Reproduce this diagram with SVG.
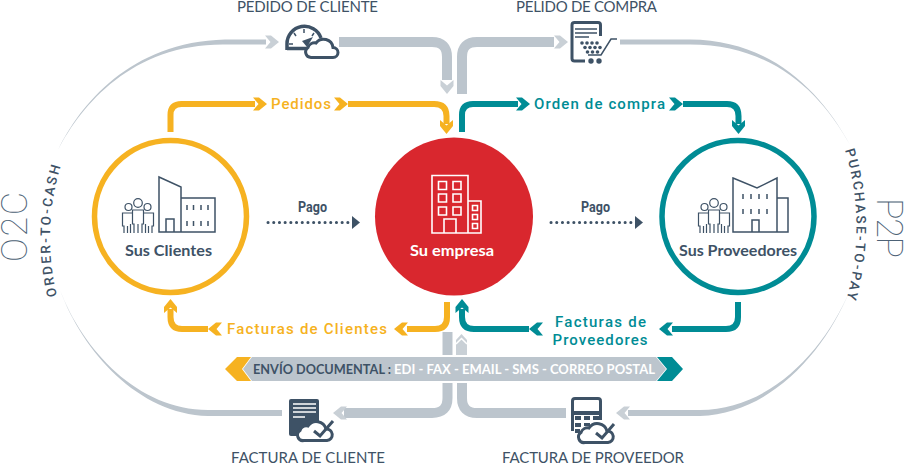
<svg xmlns="http://www.w3.org/2000/svg" width="904" height="464" viewBox="0 0 904 464">
<style>
.y{fill:none;stroke:#f6b221;stroke-width:6}
.t{fill:none;stroke:#008c95;stroke-width:6}
.g{fill:none;stroke:#bcc5cd;stroke-width:10}
.fy{fill:#f6b221}.ft{fill:#008c95}.fg{fill:#bcc5cd}.fp{fill:#c9d0d6}.fd{fill:#3e5266}
.lab{font-family:"Roboto","Liberation Sans",sans-serif;font-weight:500;font-size:15px;letter-spacing:2px}
.top{font-family:"Lato","Liberation Sans",sans-serif;font-size:15px;fill:#3e5266}
.nm{font-family:"Lato","Liberation Sans",sans-serif;font-weight:700;font-size:16px}
.ban{font-family:"Lato","Liberation Sans",sans-serif;font-weight:700;font-size:13.500px}
.pago{font-family:"Roboto","Liberation Sans",sans-serif;font-weight:700;font-size:14.500px;fill:#3e5266}
.side{font-family:"Roboto","Liberation Sans",sans-serif;font-weight:500;font-size:13.500px;letter-spacing:2.200px;fill:#3e5266}
.big{font-family:"Roboto","Liberation Sans",sans-serif;font-weight:100;font-size:36px;fill:#4d6276}
.ln{fill:none;stroke:#3e5266;stroke-width:1.500}
.pl{fill:none;stroke:#3e5266;stroke-width:1.200}
.dot{fill:none;stroke:#3e5266;stroke-width:3;stroke-linecap:round;stroke-dasharray:.1 5.600}
.ic{fill:none;stroke:#3e5266;stroke-width:3}
.wl{fill:none;stroke:#fff;stroke-width:1.600}
</style>
<defs>
<path id="ch" d="M-14-6.500H-8L0 0-8 6.500H-14L-8.500 0Z"/>
<g id="people" class="pl">
<circle cx="-9.500" cy="4" r="3.500"/><circle cx="0" cy="0" r="4.300"/><circle cx="9.500" cy="4" r="3.500"/>
<path d="M-4 30V21H-5.500V7H5.500V21H4V30M0 21V30"/>
<path d="M-5.500 10H-15.500V23H-14V30M-10.500 23V30M-7.500 21V30M5.500 10H15.500V23H14V30M10.500 23V30M7.500 21V30"/>
</g>
<path id="p2pa" d="M845 150Q868 226 845 304"/>
<path id="o2ca" d="M57 296Q40 226 64 156"/>
</defs>
<g id="connectors">
<path class="fg" d="M58 150C80 105 130 42 225 39.500H266V44.500H225C133 43.500 82 104 58 150Z"/>
<use href="#ch" class="fp" transform="translate(279 42)"/>
<path class="fg" d="M620 39.500H690C770 40 820 90 850 145C820 91 771 44.500 690 44.500H620Z"/>
<path class="fg" d="M282 410H208C138 410 83 350 60 290C83 352 138 414 208 416H282Z"/>
<path class="fg" d="M628 410H700C770 410 825 350 850 290C825 352 770 414 700 416H628Z"/>
<use href="#ch" class="fp" transform="translate(616 413) rotate(180)"/>
<path class="g" d="M339 42H432Q447 42 447 57V80"/>
<use href="#ch" class="fp" transform="translate(447 94) rotate(90)"/>
<path class="g" d="M462 94V57Q462 42 477 42H554"/>
<use href="#ch" class="fp" transform="translate(568 42)"/>
<path class="g" d="M447.500 332V355"/>
<path class="g" d="M447.500 383V398Q447.500 413 432 413H344"/>
<use href="#ch" class="fp" transform="translate(333 413) rotate(180)"/>
<path class="g" d="M462 383V398Q462 413 477 413H566"/>
<path class="fp" d="M456 355H467V340L461.500 334 456 340Z"/>
<path d="M456 344L461.500 338.500 467 344" fill="none" stroke="#fff" stroke-width="1.500"/>

<path class="y" d="M170.500 132V115Q170.500 104 181.500 104H255"/>
<use href="#ch" class="fy" transform="translate(267 104)"/>
<use href="#ch" class="fy" transform="translate(348 104)"/>
<path class="y" d="M348 104H434Q446.500 104 446.500 116V124"/>
<use href="#ch" class="fy" transform="translate(446.500 134) rotate(90)"/>
<path class="t" d="M462 132V115Q462 104 473 104H518"/>
<use href="#ch" class="ft" transform="translate(530 104)"/>
<use href="#ch" class="ft" transform="translate(683 104)"/>
<path class="t" d="M683 104H727Q738.500 104 738.500 116V124"/>
<use href="#ch" class="ft" transform="translate(738.500 134) rotate(90)"/>

<path class="y" d="M447 302V317Q447 329 435 329H407"/>
<use href="#ch" class="fy" transform="translate(394 329) rotate(180)"/>
<use href="#ch" class="fy" transform="translate(208 329) rotate(180)"/>
<path class="y" d="M208 329H182Q170.500 329 170.500 317V309"/>
<use href="#ch" class="fy" transform="translate(170.500 299) rotate(-90)"/>
<path class="t" d="M738 302V317Q738 329 726 329H672"/>
<use href="#ch" class="ft" transform="translate(659 329) rotate(180)"/>
<use href="#ch" class="ft" transform="translate(529 329) rotate(180)"/>
<path class="t" d="M529 329H474Q462 329 462 317V309"/>
<use href="#ch" class="ft" transform="translate(462 299) rotate(-90)"/>

<path class="dot" d="M268 222.500H352"/>
<path class="fd" d="M352 216L360 222.500 352 229Z"/>
<path class="dot" d="M551 222.500H635"/>
<path class="fd" d="M635 216L643 222.500 635 229Z"/>
</g>
<g id="edge-labels">
<text class="lab fy" x="271" y="109" textLength="62">Pedidos</text>
<text class="lab ft" x="534" y="109" textLength="133">Orden de compra</text>
<text class="lab fy" x="227" y="334" textLength="162">Facturas de Clientes</text>
<text class="lab ft" x="555" y="327" textLength="93">Facturas de</text>
<text class="lab ft" x="552.500" y="345" textLength="97">Proveedores</text>
<text class="pago" x="298" y="212" textLength="29" lengthAdjust="spacingAndGlyphs">Pago</text>
<text class="pago" x="581" y="212" textLength="29" lengthAdjust="spacingAndGlyphs">Pago</text>
</g>
<g id="banner">
<path class="fg" d="M252 357H656L666 369 656 381H252L243 369Z"/>
<path class="fy" d="M225 369L237 357H251L242 369 251 381H237Z"/>
<path class="ft" d="M657 357H672L683 369 672 381H657L667 369Z"/>
<text class="ban" x="253" y="374" fill="#3e5266" textLength="138" lengthAdjust="spacingAndGlyphs">ENVÍO DOCUMENTAL :</text>
<text class="ban" x="394" y="374" fill="#fff" textLength="261" lengthAdjust="spacingAndGlyphs">EDI - FAX - EMAIL - SMS - CORREO POSTAL</text>
</g>
<g id="node-clientes">
<circle cx="170.500" cy="216.500" r="76" fill="#fff" stroke="#f6b221" stroke-width="5.500"/>
<path class="ln" d="M159 232V177L181 187V232ZM181 198H215V232H181M166 232V219H174V232"/>
<path class="ln" d="M187 205v5M193.500 205v5M201 205v5M208 205v5M187 221v5M193.500 221v5M201 221v5M208 221v5"/>
<use href="#people" transform="translate(138 203)"/>
<text class="nm fd" x="125" y="256" textLength="87" lengthAdjust="spacingAndGlyphs">Sus Clientes</text>
</g>
<g id="node-empresa">
<circle cx="454" cy="216.500" r="79" fill="#d9272e"/>
<path class="wl" d="M432 175.500H468V233H432ZM468 201H481V233H468M444 233V219H456V233"/>
<path class="wl" d="M438.500 181.500h8v8h-8zM453 181.500h8v8h-8zM438.500 194h8v8h-8zM453 194h8v8h-8zM438.500 207h8v8h-8zM453 207h8v8h-8zM472.500 205.500h5v5h-5zM472.500 214.500h5v5h-5zM472.500 223.500h5v5h-5z"/>
<text class="nm" fill="#fff" x="410" y="256" textLength="84" lengthAdjust="spacingAndGlyphs">Su empresa</text>
</g>
<g id="node-proveedores">
<circle cx="738" cy="216.500" r="76" fill="#fff" stroke="#008c95" stroke-width="5.500"/>
<path class="ln" d="M733 178L757 188 777 178V232H733ZM777 198H788V232H777M752 232V220H759V232"/>
<path class="ln" d="M743 194v5M751 194v5M759 194v5M767 194v5M743 209v5M751 209v5M759 209v5M767 209v5"/>
<use href="#people" transform="translate(714 203)"/>
<text class="nm fd" x="679" y="256" textLength="118" lengthAdjust="spacingAndGlyphs">Sus Proveedores</text>
</g>
<g id="node-pedido-cliente">
<path class="ic" style="stroke-width:3.500" d="M287 50V44A17.500 17.500 0 0 1 321 38M287 48.500H308"/>
<path class="ln" d="M304 29v4M294 33l2 3M314 33l-2 3M289 44h4"/>
<path class="fd" d="M302 41l11-4-6 10Z"/>
<path d="M311 57.500A5.500 5.500 0 0 1 308 47.500A7 7 0 0 1 316 43A9.500 9.500 0 0 1 333 47.500A5 5 0 0 1 333 57.500Z" fill="#fff" stroke="#3e5266" stroke-width="3"/>
<text class="top" x="237" y="11.500" textLength="141">PEDIDO DE CLIENTE</text>
</g>
<g id="node-pedido-compra">
<path class="ic" d="M600.500 36V25Q600.500 22.500 598 22.500H574.500Q572 22.500 572 25V58.500Q572 61 574.500 61H585"/>
<path class="ln" d="M575 29H597M575 33H597M575 37H589"/>
<g class="fd">
<circle cx="582" cy="43" r="1.800"/><circle cx="587" cy="43" r="1.800"/><circle cx="592" cy="43" r="1.800"/><circle cx="597" cy="43" r="1.800"/>
<circle cx="585" cy="47.500" r="1.800"/><circle cx="590" cy="47.500" r="1.800"/><circle cx="595" cy="47.500" r="1.800"/><circle cx="600" cy="47.500" r="1.800"/>
<circle cx="587.500" cy="52" r="1.800"/><circle cx="592.500" cy="52" r="1.800"/><circle cx="597.500" cy="52" r="1.800"/>
<circle cx="591" cy="61" r="2.700"/><circle cx="599" cy="61" r="2.700"/>
</g>
<path class="ln" d="M617 39H611L601 55H588"/>
<text class="top" x="516" y="11.500" textLength="141">PELIDO DE COMPRA</text>
</g>
<g id="node-factura-cliente">
<path class="fd" d="M291 399H317Q319 399 319 401V436H291Q289 436 289 434V401Q289 399 291 399Z"/>
<path class="wl" d="M293 404H316M293 408H316M293 412H316M293 417H305"/>
<path fill="#fff" stroke="#3e5266" stroke-width="3" d="M304 440.500A5.500 5.500 0 0 1 300 430.500A7 7 0 0 1 308 426A10 10 0 0 1 326 429A5.500 5.500 0 0 1 327 440.500Z"/>
<path fill="none" stroke="#3e5266" stroke-width="3" d="M314 431L320 436 333 421"/>
<text class="top" x="231" y="463" textLength="154">FACTURA DE CLIENTE</text>
</g>
<g id="node-factura-proveedor">
<path class="ic" d="M572.500 431V401Q572.500 398.500 575 398.500H598Q600.500 398.500 600.500 401V420"/>
<path class="fd" d="M571 411H602V415H571Z"/>
<path class="fd" d="M575 416h6v4h-6zM584 416h6v4h-6zM593 416h6v4h-6zM575 423h6v4h-6zM584 423h6v3h-6zM575 429h5v4h-5z"/>
<path fill="#fff" stroke="#3e5266" stroke-width="3" d="M585 442.500A5.500 5.500 0 0 1 581 432.500A7 7 0 0 1 589 428A10 10 0 0 1 607 431A5.500 5.500 0 0 1 608 442.500Z"/>
<path fill="none" stroke="#3e5266" stroke-width="3" d="M596 433L602 438 614 424"/>
<text class="top" x="502" y="463" textLength="182">FACTURA DE PROVEEDOR</text>
</g>
<g id="side-labels">
<text class="big" transform="translate(27 262) rotate(-90)" textLength="70">O2C</text>
<text class="big" transform="translate(877 198) rotate(90)" textLength="60">P2P</text>
<text class="side"><textPath href="#o2ca">ORDER-TO-CASH</textPath></text>
<text class="side"><textPath href="#p2pa">PURCHASE-TO-PAY</textPath></text>
</g>
</svg>
